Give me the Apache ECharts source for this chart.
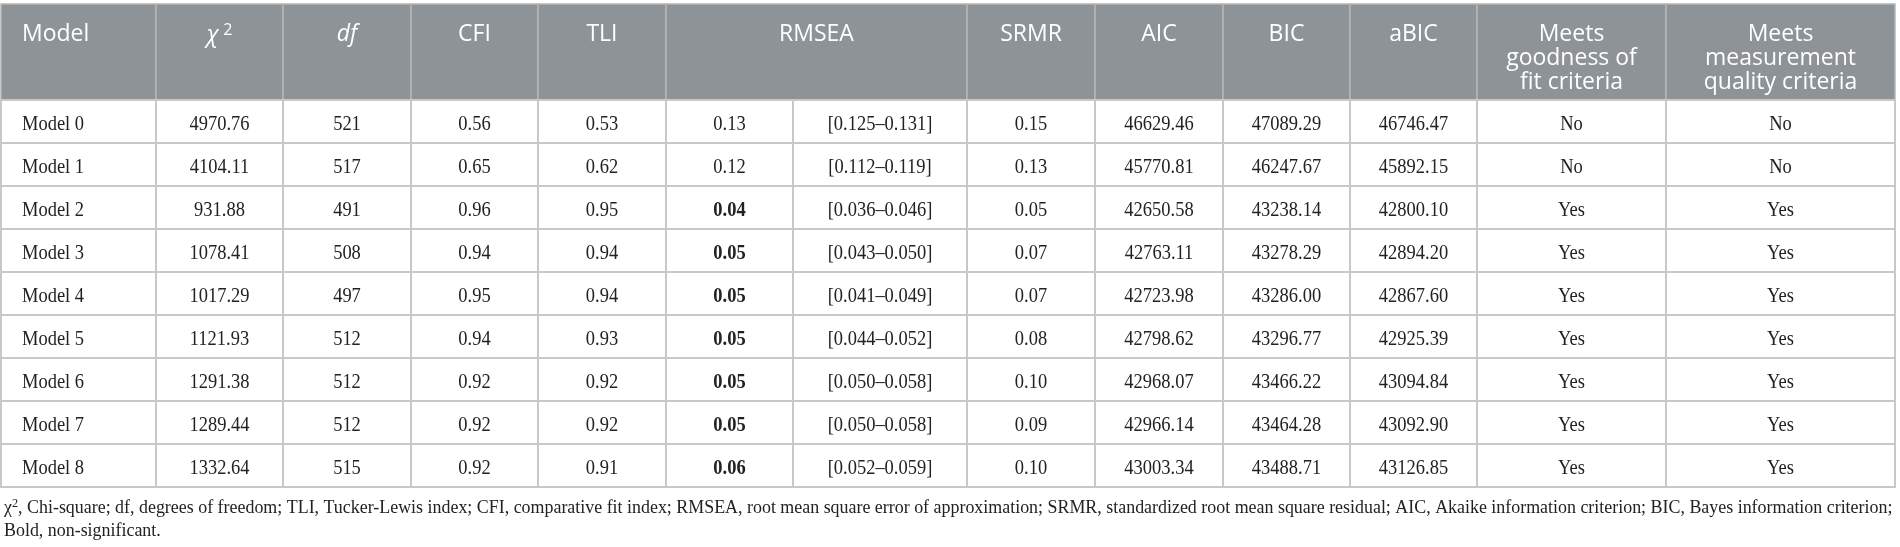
<!DOCTYPE html>
<html>
<head>
<meta charset="utf-8">
<script src="https://cdn.jsdelivr.net/npm/echarts@6/dist/echarts.min.js"></script>
<style>
  html, body { margin: 0; padding: 0; background: #fff; }
  #main { width: 1900px; height: 547px; }
</style>
</head>
<body>
<div id="main"></div>
<script>
// ---- table data ----
var headers = ['Model', 'chi2', 'df', 'CFI', 'TLI', 'RMSEA', 'SRMR', 'AIC', 'BIC', 'aBIC',
               'Meets\ngoodness of\nfit criteria', 'Meets\nmeasurement\nquality criteria'];
var models = ['Model 0', 'Model 1', 'Model 2', 'Model 3', 'Model 4', 'Model 5', 'Model 6', 'Model 7', 'Model 8'];
var chi2 = [4970.76, 4104.11, 931.88, 1078.41, 1017.29, 1121.93, 1291.38, 1289.44, 1332.64];
var df = [521, 517, 491, 508, 497, 512, 512, 512, 515];
var cfi = [0.56, 0.65, 0.96, 0.94, 0.95, 0.94, 0.92, 0.92, 0.92];
var tli = [0.53, 0.62, 0.95, 0.94, 0.94, 0.93, 0.92, 0.92, 0.91];
var rmsea = [0.13, 0.12, 0.04, 0.05, 0.05, 0.05, 0.05, 0.05, 0.06];
var rmseaLo = [0.125, 0.112, 0.036, 0.043, 0.041, 0.044, 0.050, 0.050, 0.052];
var rmseaHi = [0.131, 0.119, 0.046, 0.050, 0.049, 0.052, 0.058, 0.058, 0.059];
var nonSig = [false, false, true, true, true, true, true, true, true];
var srmr = [0.15, 0.13, 0.05, 0.07, 0.07, 0.08, 0.10, 0.09, 0.10];
var aic = [46629.46, 45770.81, 42650.58, 42763.11, 42723.98, 42798.62, 42968.07, 42966.14, 43003.34];
var bic = [47089.29, 46247.67, 43238.14, 43278.29, 43286.00, 43296.77, 43466.22, 43464.28, 43488.71];
var abic = [46746.47, 45892.15, 42800.10, 42894.20, 42867.60, 42925.39, 43094.84, 43092.90, 43126.85];
var fitOk = ['No', 'No', 'Yes', 'Yes', 'Yes', 'Yes', 'Yes', 'Yes', 'Yes'];
var qualityOk = ['No', 'No', 'Yes', 'Yes', 'Yes', 'Yes', 'Yes', 'Yes', 'Yes'];
var footnote = ', Chi-square; df, degrees of freedom; TLI, Tucker-Lewis index; CFI, comparative fit index; RMSEA, root mean square error of approximation; SRMR, standardized root mean square residual; AIC, Akaike information criterion; BIC, Bayes information criterion;\nBold, non-significant.';

// ---- layout ----
var colEdges = [1, 156, 283, 411, 538, 666, 793, 967, 1095, 1223, 1350, 1477, 1666, 1895];
var headTop = 4, headBottom = 100, rowH = 43;

function f2(v) { return v.toFixed(2); }

// build cells: [x0, x1, y0, y1], plus text info
var cells = [];
// header cells (RMSEA spans two columns)
var hc = 0;
headers.forEach(function (h, i) {
  var x0 = colEdges[hc], span = (h === 'RMSEA') ? 2 : 1;
  var x1 = colEdges[hc + span];
  hc += span;
  cells.push({ value: [x0, x1, headTop, headBottom], head: true, text: h, left: i === 0 });
});
models.forEach(function (m, r) {
  var y0 = headBottom + r * rowH, y1 = y0 + rowH;
  var texts = [m, f2(chi2[r]), String(df[r]), f2(cfi[r]), f2(tli[r]), f2(rmsea[r]),
    '[' + rmseaLo[r].toFixed(3) + '\u2013' + rmseaHi[r].toFixed(3) + ']',
    f2(srmr[r]), f2(aic[r]), f2(bic[r]), f2(abic[r]), fitOk[r], qualityOk[r]];
  texts.forEach(function (t, c) {
    cells.push({ value: [colEdges[c], colEdges[c + 1], y0, y1], head: false, text: t,
      left: c === 0, bold: c === 5 && nonSig[r] });
  });
});

var headFont = '"Open Sans", sans-serif';
var bodyFont = '"Liberation Serif", "Times New Roman", serif';

function renderCell(params, api) {
  var cell = cells[params.dataIndex];
  var p0 = api.coord([api.value(0), api.value(2)]);
  var p1 = api.coord([api.value(1), api.value(3)]);
  var children = [{
    type: 'rect',
    shape: { x: p0[0], y: p0[1], width: p1[0] - p0[0], height: p1[1] - p0[1] },
    style: cell.head ? { fill: '#8e9397', stroke: '#b4b8bb', lineWidth: 1.5 }
                     : { fill: '#ffffff', stroke: '#c8c8c8', lineWidth: 2 }
  }];
  var tx = cell.left ? p0[0] + 21 : (p0[0] + p1[0]) / 2;
  var align = cell.left ? 'left' : 'center';
  if (cell.head) {
    var style = { x: tx, y: p0[1] + 18, align: align, verticalAlign: 'top', fill: '#ffffff',
      font: '23px ' + headFont, lineHeight: 24 };
    if (cell.text === 'chi2') {
      style.text = '{c|\u03c7}{s|2}';
      style.rich = {
        c: { font: 'italic 23px ' + headFont, fill: '#fff', lineHeight: 26, padding: [0, 5, 0, 0] },
        s: { font: '16px ' + headFont, fill: '#fff', verticalAlign: 'top', lineHeight: 26, padding: [0, 0, 8, 0] }
      };
    } else if (cell.text === 'df') {
      style.text = 'df';
      style.font = 'italic 23px ' + headFont;
    } else {
      style.text = cell.text;
    }
    children.push({ type: 'text', style: style });
  } else {
    // serif body text, a little condensed like the source typeface
    children.push({ type: 'text', x: tx, y: (p0[1] + p1[1]) / 2 + 3, scaleX: 0.88, style: {
      text: cell.text, x: 0, y: 0, align: align, verticalAlign: 'middle',
      fill: '#222', font: (cell.bold ? 'bold ' : '') + '21px ' + bodyFont
    } });
  }
  return { type: 'group', children: children };
}

var chart = echarts.init(document.getElementById('main'), null, { renderer: 'canvas' });
chart.setOption({
  animation: false,
  backgroundColor: '#ffffff',
  graphic: [{
    type: 'text', left: 4, top: 497, scaleX: 0.943,
    style: {
      text: '{c|\u03c7}{s|2}' + footnote,
      font: '19px ' + bodyFont, fill: '#222', lineHeight: 23,
      rich: {
        c: { font: '19px ' + bodyFont, fill: '#222', lineHeight: 23 },
        s: { font: '13px ' + bodyFont, fill: '#222', verticalAlign: 'top', lineHeight: 23, padding: [0, 0, 6, 0] }
      }
    }
  }],
  grid: { left: 0, right: 0, top: 0, bottom: 0 },
  xAxis: { type: 'value', min: 0, max: 1900, show: false },
  yAxis: { type: 'value', min: 0, max: 547, inverse: true, show: false },
  series: [{
    type: 'custom',
    renderItem: renderCell,
    data: cells.map(function (c) { return c.value; }),
    encode: { x: [0, 1], y: [2, 3] },
    silent: true
  }]
});
</script>
</body>
</html>
